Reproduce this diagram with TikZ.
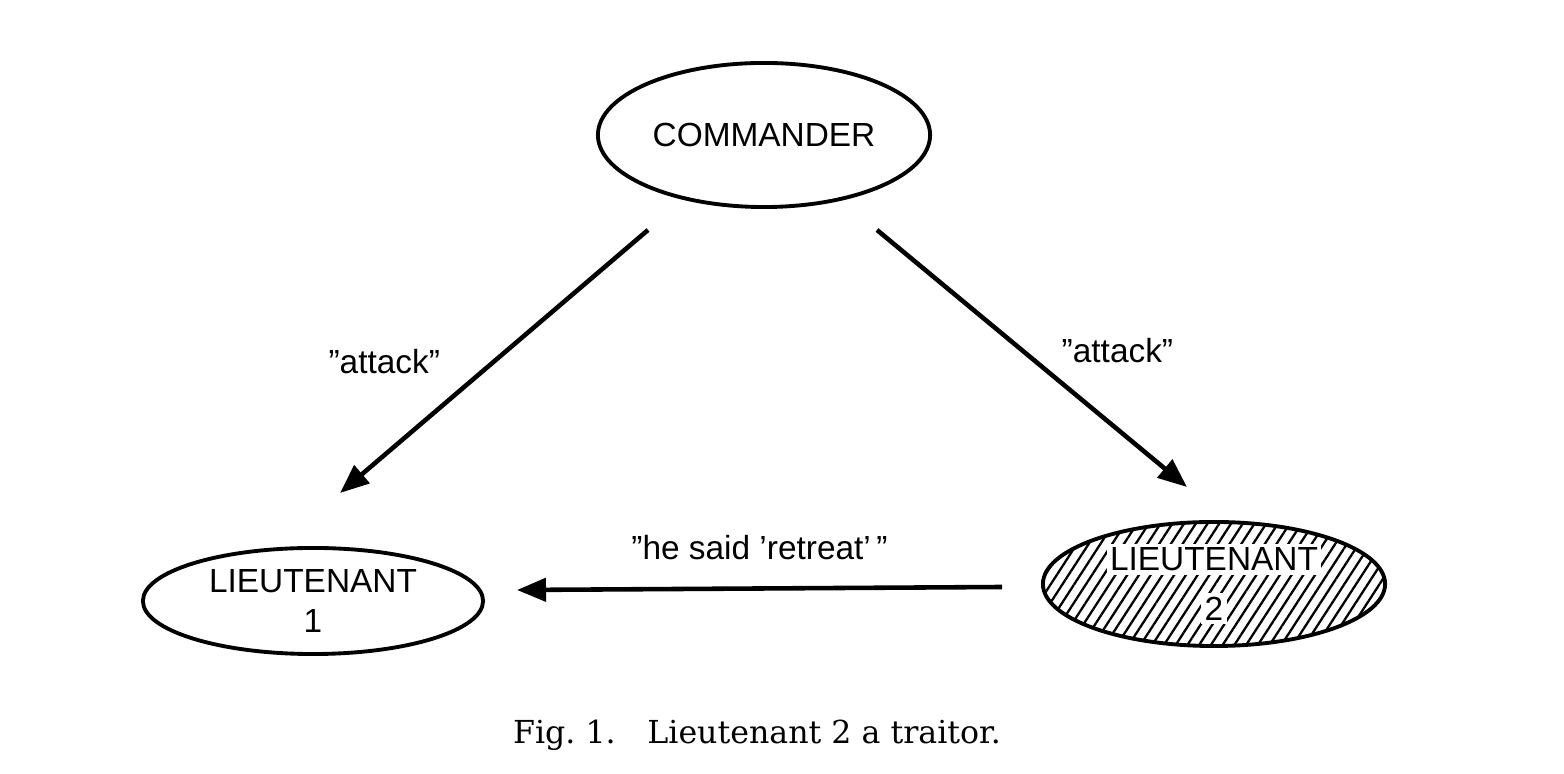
\documentclass[tikz,border=0pt]{standalone}
\usepackage{fontspec}
\setsansfont{Liberation Sans}
\newfontfamily\captionserif{DejaVu Serif}
\usetikzlibrary{shapes.geometric,arrows.meta,patterns.meta}

\begin{document}
\begin{tikzpicture}[
    x=0.01cm, y=-0.01cm,
    general/.style={ellipse, draw, line width=1.1pt, inner sep=0pt, align=center, font=\fontsize{9.5}{11.5}\selectfont\sffamily},
    msg/.style={-{Triangle[length=2.9mm, width=2.3mm]}, line width=1.3pt},
    said/.style={font=\fontsize{9.5}{11.5}\selectfont\sffamily}
]
\useasboundingbox (0,0) rectangle (1564,774);
\fboxsep=1pt
\node[general, minimum width=3.32cm, minimum height=1.44cm] (cmd) at (764,135) {COMMANDER};
\node[general, minimum width=3.40cm, minimum height=1.06cm] (lt1) at (313,601) {LIEUTENANT\\1};
\node[general, minimum width=3.42cm, minimum height=1.24cm,
      pattern={Lines[angle=57, distance=2.8pt, line width=0.65pt]}] (lt2) at (1214,584)
      {\colorbox{white}{LIEUTENANT}\\[2.5pt]\colorbox{white}{2}};

% message ends
\coordinate (cmd-l) at ([shift={(-116,95)}]cmd.center);
\coordinate (cmd-r) at ([shift={(113,95)}]cmd.center);
\coordinate (lt1-top) at ([shift={(27,-108)}]lt1.center);
\coordinate (lt1-r) at ([shift={(204,-11)}]lt1.center);
\coordinate (lt2-top) at ([shift={(-27,-97)}]lt2.center);
\coordinate (lt2-l) at ([shift={(-212,3)}]lt2.center);

\draw[msg] (cmd-l) -- node[said, midway, left=4mm] {''attack''} (lt1-top);
\draw[msg] (cmd-r) -- node[said, pos=0.47, right=2.5mm] {''attack''} (lt2-top);
\draw[msg] (lt2-l) -- node[said, midway, above=1.5mm] {''he said 'retreat'\,''} (lt1-r);

\node[font=\fontsize{9}{11}\selectfont\captionserif] (caption) at (757,735) {Fig.~1.\hspace{9pt}Lieutenant 2 a traitor.};
\end{tikzpicture}
\end{document}
